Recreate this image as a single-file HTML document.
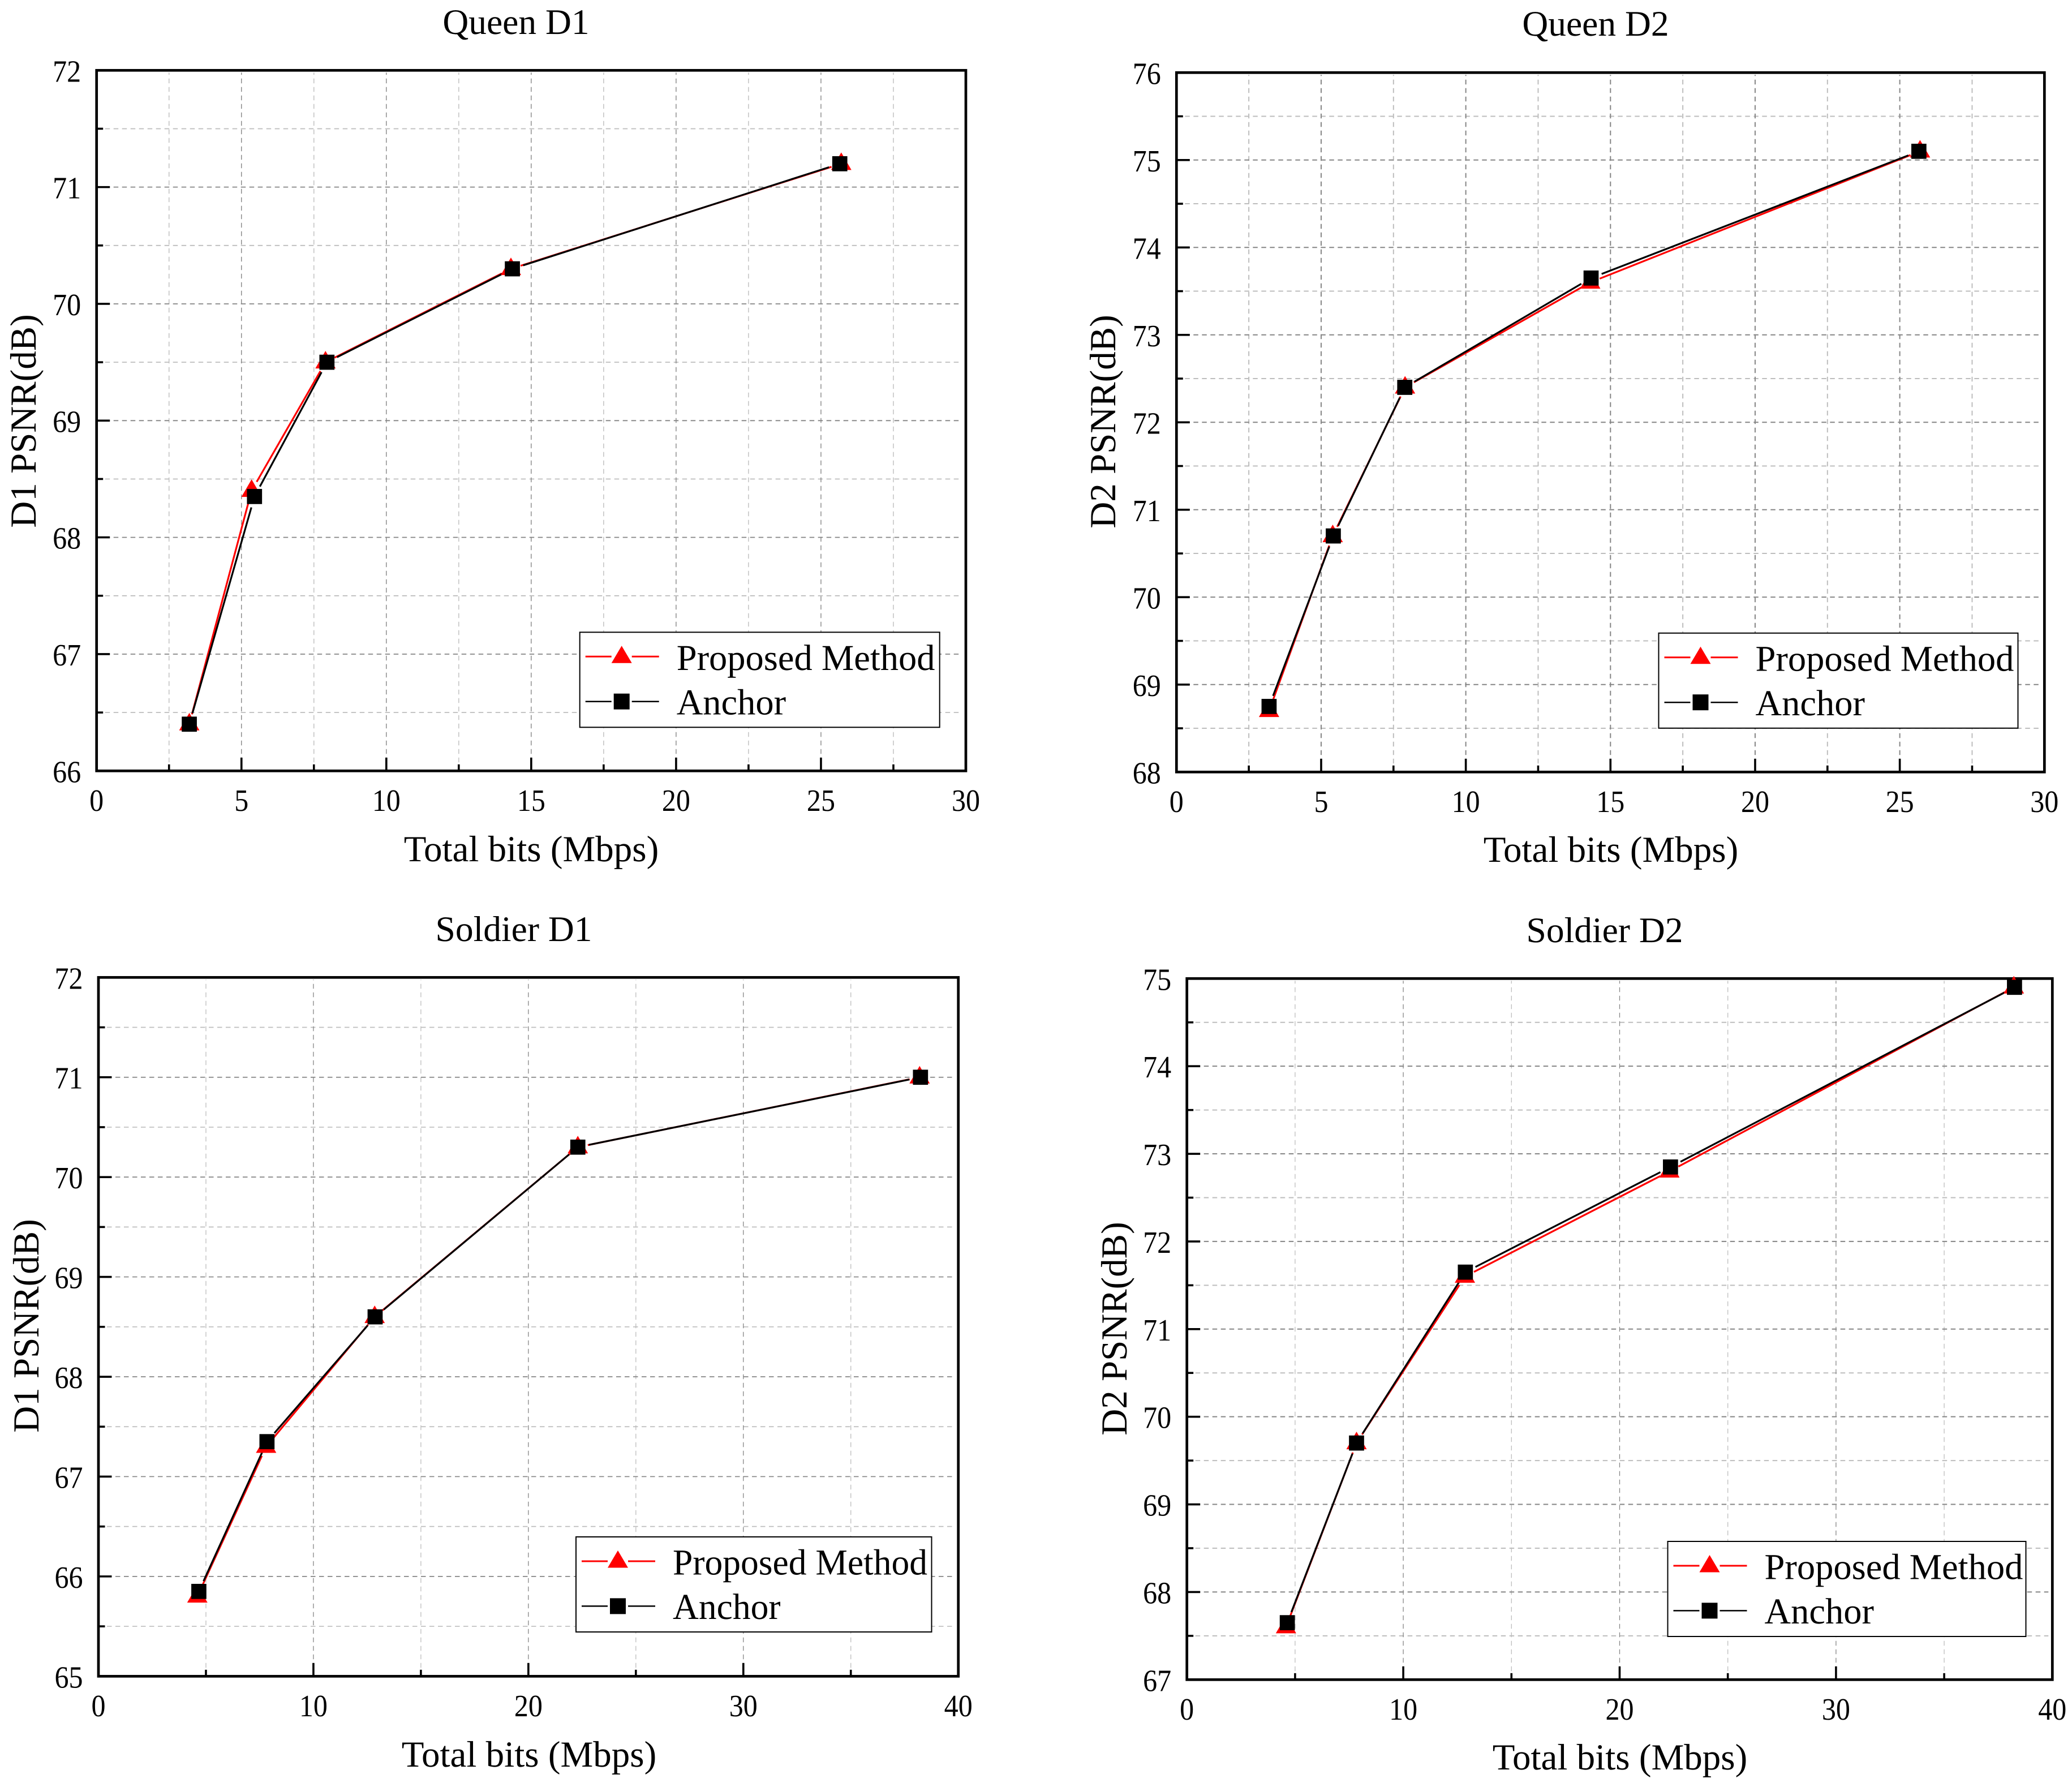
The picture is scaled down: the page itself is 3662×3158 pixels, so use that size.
<!DOCTYPE html>
<html lang="en">
<head>
<meta charset="utf-8">
<title>Queen and Soldier PSNR rate-distortion charts</title>
<style>
  html, body { margin: 0; padding: 0; background: #fff; }
  svg { display: block; }
  text { font-family: "Liberation Serif", serif; fill: #000; text-rendering: geometricPrecision; }
  .title { font-size: 63.5px; text-anchor: middle; }
  .axis-title { font-size: 65px; text-anchor: middle; }
  .legend-text { font-size: 64.5px; }
  .legend-box { fill: #fff; stroke: #000; stroke-width: 2; }
</style>
</head>
<body>
<svg id="figure" xmlns="http://www.w3.org/2000/svg" width="3662" height="3158" viewBox="0 0 3662 3158">
  <rect x="0" y="0" width="3662" height="3158" fill="#fff"/>

  <g id="panel-queen-d1"></g>
  <g id="panel-queen-d2"></g>
  <g id="panel-soldier-d1"></g>
  <g id="panel-soldier-d2"></g>

  <g id="labels">
    <text class="title" x="912" y="60">Queen D1</text>
    <text class="axis-title" x="939" y="1522">Total bits (Mbps)</text>
    <text class="axis-title" transform="translate(63,744) rotate(-90)">D1 PSNR(dB)</text>

    <text class="title" x="2820" y="63">Queen D2</text>
    <text class="axis-title" x="2847" y="1523">Total bits (Mbps)</text>
    <text class="axis-title" transform="translate(1971,745) rotate(-90)">D2 PSNR(dB)</text>

    <text class="title" x="908" y="1663">Soldier D1</text>
    <text class="axis-title" x="935" y="3122">Total bits (Mbps)</text>
    <text class="axis-title" transform="translate(68,2343) rotate(-90)">D1 PSNR(dB)</text>

    <text class="title" x="2836" y="1665">Soldier D2</text>
    <text class="axis-title" x="2863" y="3127">Total bits (Mbps)</text>
    <text class="axis-title" transform="translate(1991,2348) rotate(-90)">D2 PSNR(dB)</text>
  </g>

  <g transform="translate(1024.7,1117.3)">
    <rect class="legend-box" width="636" height="168"/>
    <g>
      <path d="M10 43H56M92 43H140" stroke="#f00" stroke-width="3" fill="none"/>
      <path d="M74 24L92 54.500H56Z" fill="#f00"/>
      <text class="legend-text" x="171" y="66.700">Proposed Method</text>
    </g>
    <g>
      <path d="M10 122.400H56M92 122.400H140" stroke="#000" stroke-width="2.500" fill="none"/>
      <rect x="60" y="108.400" width="28" height="28" fill="#000"/>
      <text class="legend-text" x="171" y="145">Anchor</text>
    </g>
  </g>

  <g transform="translate(2931.5,1118.8)">
    <rect class="legend-box" width="635" height="168"/>
    <g>
      <path d="M10 43H56M92 43H140" stroke="#f00" stroke-width="3" fill="none"/>
      <path d="M74 24L92 54.500H56Z" fill="#f00"/>
      <text class="legend-text" x="171" y="66.700">Proposed Method</text>
    </g>
    <g>
      <path d="M10 122.400H56M92 122.400H140" stroke="#000" stroke-width="2.500" fill="none"/>
      <rect x="60" y="108.400" width="28" height="28" fill="#000"/>
      <text class="legend-text" x="171" y="145">Anchor</text>
    </g>
  </g>

  <g transform="translate(1018,2716)">
    <rect class="legend-box" width="628.500" height="168"/>
    <g>
      <path d="M10 43H56M92 43H140" stroke="#f00" stroke-width="3" fill="none"/>
      <path d="M74 24L92 54.500H56Z" fill="#f00"/>
      <text class="legend-text" transform="translate(171,66.700) scale(0.985,1)">Proposed Method</text>
    </g>
    <g>
      <path d="M10 122.400H56M92 122.400H140" stroke="#000" stroke-width="2.500" fill="none"/>
      <rect x="60" y="108.400" width="28" height="28" fill="#000"/>
      <text class="legend-text" transform="translate(171,145) scale(0.985,1)">Anchor</text>
    </g>
  </g>

  <g transform="translate(2947.5,2724)">
    <rect class="legend-box" width="633" height="168"/>
    <g>
      <path d="M10 43H56M92 43H140" stroke="#f00" stroke-width="3" fill="none"/>
      <path d="M74 24L92 54.500H56Z" fill="#f00"/>
      <text class="legend-text" x="171" y="66.700">Proposed Method</text>
    </g>
    <g>
      <path d="M10 122.400H56M92 122.400H140" stroke="#000" stroke-width="2.500" fill="none"/>
      <rect x="60" y="108.400" width="28" height="28" fill="#000"/>
      <text class="legend-text" x="171" y="145">Anchor</text>
    </g>
  </g>
</svg>

<script>
// ---- chart data ----
const queenD1ProposedBits = [3.2, 5.35, 7.9, 14.3, 25.7];
const queenD1ProposedPsnr = [66.4, 68.4, 69.5, 70.3, 71.2];
const queenD1AnchorBits = [3.2, 5.45, 7.95, 14.35, 25.65];
const queenD1AnchorPsnr = [66.4, 68.35, 69.5, 70.3, 71.2];
const queenD1XTicks = [0, 5, 10, 15, 20, 25, 30];
const queenD1YTicks = [66, 67, 68, 69, 70, 71, 72];

const queenD2ProposedBits = [3.2, 5.4, 7.9, 14.3, 25.7];
const queenD2ProposedPsnr = [68.7, 70.7, 72.4, 73.6, 75.1];
const queenD2AnchorBits = [3.2, 5.42, 7.89, 14.33, 25.66];
const queenD2AnchorPsnr = [68.75, 70.7, 72.4, 73.65, 75.1];
const queenD2XTicks = [0, 5, 10, 15, 20, 25, 30];
const queenD2YTicks = [68, 69, 70, 71, 72, 73, 74, 75, 76];

const soldierD1ProposedBits = [4.6, 7.8, 12.85, 22.3, 38.2];
const soldierD1ProposedPsnr = [65.8, 67.3, 68.6, 70.3, 71.0];
const soldierD1AnchorBits = [4.67, 7.84, 12.87, 22.3, 38.24];
const soldierD1AnchorPsnr = [65.85, 67.35, 68.6, 70.3, 71.0];
const soldierD1XTicks = [0, 10, 20, 30, 40];
const soldierD1YTicks = [65, 66, 67, 68, 69, 70, 71, 72];

const soldierD2ProposedBits = [4.58, 7.84, 12.85, 22.3, 38.22];
const soldierD2ProposedPsnr = [67.6, 69.7, 71.6, 72.8, 74.9];
const soldierD2AnchorBits = [4.64, 7.84, 12.87, 22.35, 38.25];
const soldierD2AnchorPsnr = [67.65, 69.7, 71.65, 72.85, 74.9];
const soldierD2XTicks = [0, 10, 20, 30, 40];
const soldierD2YTicks = [67, 68, 69, 70, 71, 72, 73, 74, 75];

// ---- panel layout ----
const panelConfigs = [
  { id: 'panel-queen-d1', key: 'queen-d1', left: 170.7, right: 1707, top: 124.3, bottom: 1362.3, gridH: 1.8, gridV: 1.4,
    proposedX: queenD1ProposedBits, proposedY: queenD1ProposedPsnr, anchorX: queenD1AnchorBits, anchorY: queenD1AnchorPsnr,
    xTicks: queenD1XTicks, yTicks: queenD1YTicks },
  { id: 'panel-queen-d2', key: 'queen-d2', left: 2079.3, right: 3613.3, top: 128.3, bottom: 1364.3, gridH: 2, gridV: 2,
    proposedX: queenD2ProposedBits, proposedY: queenD2ProposedPsnr, anchorX: queenD2AnchorBits, anchorY: queenD2AnchorPsnr,
    xTicks: queenD2XTicks, yTicks: queenD2YTicks },
  { id: 'panel-soldier-d1', key: 'soldier-d1', left: 174, right: 1693.7, top: 1727.3, bottom: 2962.3, gridH: 1.7, gridV: 1.3,
    proposedX: soldierD1ProposedBits, proposedY: soldierD1ProposedPsnr, anchorX: soldierD1AnchorBits, anchorY: soldierD1AnchorPsnr,
    xTicks: soldierD1XTicks, yTicks: soldierD1YTicks },
  { id: 'panel-soldier-d2', key: 'soldier-d2', left: 2097.7, right: 3627.3, top: 1729.3, bottom: 2968.3, gridH: 2, gridV: 1.3,
    proposedX: soldierD2ProposedBits, proposedY: soldierD2ProposedPsnr, anchorX: soldierD2AnchorBits, anchorY: soldierD2AnchorPsnr,
    xTicks: soldierD2XTicks, yTicks: soldierD2YTicks }
];

const SVG_NS = 'http://www.w3.org/2000/svg';
const LABEL_SQUEEZE = 0.91;

function make(parent, tag, props) {
  const node = document.createElementNS(SVG_NS, tag);
  for (const k in props) node.setAttribute(k, props[k]);
  parent.appendChild(node);
  return node;
}

function midpoints(ticks) {
  const mids = [];
  for (let i = 0; i + 1 < ticks.length; i++) mids.push((ticks[i] + ticks[i + 1]) / 2);
  return mids;
}

function seriesPath(xs, ys, xScale, yScale, gap) {
  let d = '';
  for (let i = 0; i + 1 < xs.length; i++) {
    const ax = xScale(xs[i]), ay = yScale(ys[i]);
    const bx = xScale(xs[i + 1]), by = yScale(ys[i + 1]);
    const len = Math.hypot(bx - ax, by - ay);
    if (len <= gap * 2) continue;
    const ux = (bx - ax) / len, uy = (by - ay) / len;
    d += 'M' + (ax + ux * gap).toFixed(2) + ' ' + (ay + uy * gap).toFixed(2) +
         'L' + (bx - ux * gap).toFixed(2) + ' ' + (by - uy * gap).toFixed(2);
  }
  return d;
}

function drawPanel(cfg) {
  const root = document.getElementById(cfg.id);
  const xMin = cfg.xTicks[0], xMax = cfg.xTicks[cfg.xTicks.length - 1];
  const yMin = cfg.yTicks[0], yMax = cfg.yTicks[cfg.yTicks.length - 1];
  const xScale = v => cfg.left + (v - xMin) / (xMax - xMin) * (cfg.right - cfg.left);
  const yScale = v => cfg.bottom - (v - yMin) / (yMax - yMin) * (cfg.bottom - cfg.top);
  const xMinor = midpoints(cfg.xTicks), yMinor = midpoints(cfg.yTicks);

  // gridlines
  const grid = make(root, 'g', { fill: 'none', 'stroke-dasharray': '8.5 6.5' });
  
  
  const addGrid = (vals, vertical, color) => {
    vals.forEach(v => {
      const props = vertical
        ? { x1: xScale(v), x2: xScale(v), y1: cfg.bottom, y2: cfg.top + 4, stroke: color, 'stroke-width': cfg.gridV }
        : { x1: cfg.left, x2: cfg.right - 7, y1: yScale(v), y2: yScale(v), stroke: color, 'stroke-width': cfg.gridH };
      const gl = make(grid, 'line', props);
      
      
    });
  };
  addGrid(xMinor, true, '#bdbdbd');
  addGrid(yMinor, false, '#bdbdbd');
  addGrid(cfg.xTicks.slice(1, -1), true, '#858585');
  addGrid(cfg.yTicks.slice(1, -1), false, '#858585');

  // tick marks
  const ticks = make(root, 'g', { stroke: '#000', 'stroke-width': 3.6 });
  
  
  const addTick = (v, vertical, len) => {
    const props = vertical
      ? { x1: xScale(v), x2: xScale(v), y1: cfg.bottom, y2: cfg.bottom - len }
      : { x1: cfg.left, x2: cfg.left + len, y1: yScale(v), y2: yScale(v) };
    const tk = make(ticks, 'line', props);
    
    
  };
  cfg.xTicks.forEach(v => addTick(v, true, 23.5));
  xMinor.forEach(v => addTick(v, true, 11.5));
  cfg.yTicks.forEach(v => addTick(v, false, 23.5));
  yMinor.forEach(v => addTick(v, false, 11.5));

  // tick labels
  cfg.xTicks.forEach(v => {
    const tx = make(root, 'text', {
      transform: 'translate(' + xScale(v) + ',' + (cfg.bottom + 70.5) + ') scale(' + LABEL_SQUEEZE + ',1)',
      'font-size': 55, 'text-anchor': 'middle'
    });
    tx.textContent = v;
    
    
  });
  cfg.yTicks.forEach(v => {
    const ty = make(root, 'text', {
      transform: 'translate(' + (cfg.left - 27.5) + ',' + (yScale(v) + 20) + ') scale(' + LABEL_SQUEEZE + ',1)',
      'font-size': 55, 'text-anchor': 'end'
    });
    ty.textContent = v;
    
    
  });

  // plot frame
  const frame = make(root, 'rect', {
    x: cfg.left, y: cfg.top, width: cfg.right - cfg.left, height: cfg.bottom - cfg.top,
    fill: 'none', stroke: '#000', 'stroke-width': 4.7
  });
  
  

  // series lines
  const proposedLine = make(root, 'path', {
    d: seriesPath(cfg.proposedX, cfg.proposedY, xScale, yScale, 18),
    fill: 'none', stroke: '#f00', 'stroke-width': 3.2
  });
  
  

  const anchorLine = make(root, 'path', {
    d: seriesPath(cfg.anchorX, cfg.anchorY, xScale, yScale, 20),
    fill: 'none', stroke: '#000', 'stroke-width': 3.2
  });
  
  

  // series markers
  cfg.proposedX.forEach((xv, i) => {
    const px = xScale(xv), py = yScale(cfg.proposedY[i]);
    const tri = make(root, 'path', {
      d: 'M' + px + ' ' + (py - 20) + 'L' + (px + 18) + ' ' + (py + 11) + 'H' + (px - 18) + 'Z',
      fill: '#f00'
    });
    
    
  });
  cfg.anchorX.forEach((xv, i) => {
    const px = xScale(xv), py = yScale(cfg.anchorY[i]);
    const sq = make(root, 'rect', {
      x: px - 13.35, y: py - 13.35, width: 26.7, height: 26.7, fill: '#000'
    });
    
    
  });
}

panelConfigs.forEach(drawPanel);
</script>
</body>
</html>
